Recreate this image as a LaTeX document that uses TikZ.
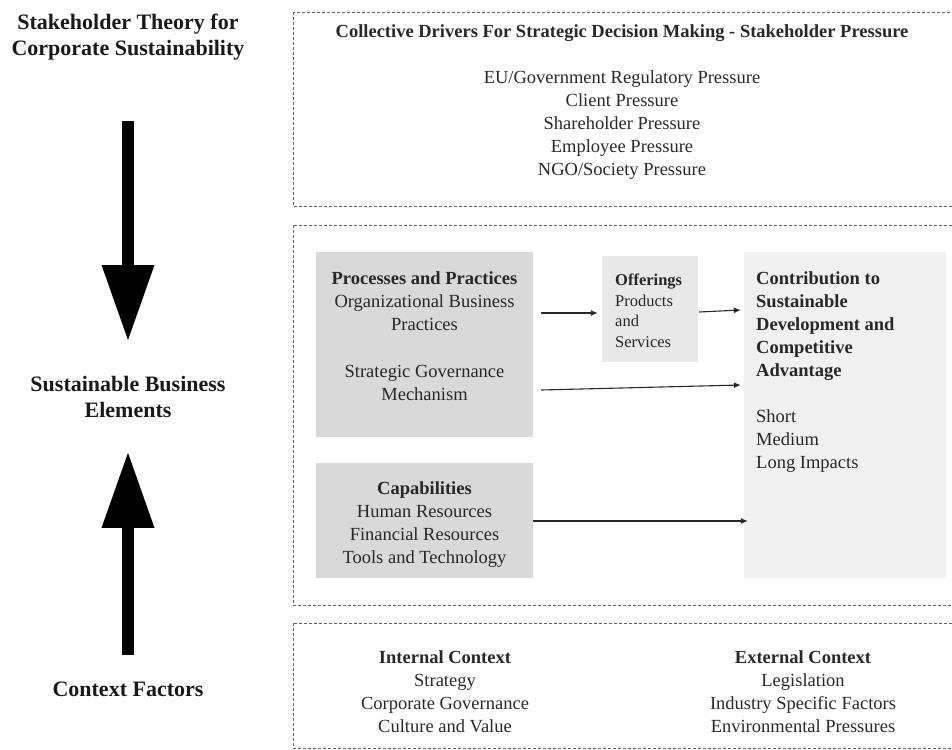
\documentclass[tikz,border=0pt]{standalone}
\usepackage{fontspec}
\setmainfont{Liberation Serif}
\usetikzlibrary{arrows.meta, positioning}
\definecolor{procgray}{RGB}{217,217,217}
\definecolor{offergray}{RGB}{232,232,232}
\definecolor{contribgray}{RGB}{240,240,240}
\definecolor{inkgray}{RGB}{40,40,40}
\definecolor{dashgray}{RGB}{95,95,95}

\begin{document}
\begin{tikzpicture}[x=1pt, y=-1pt,
    frame/.style={draw=dashgray, line width=0.8pt, dash pattern=on 3pt off 2pt},
    body/.style={inner sep=0pt, text=inkgray, align=center, font=\fontsize{18.5pt}{23pt}\selectfont},
    bodyleft/.style={body, align=left},
    smalltext/.style={inner sep=0pt, text=inkgray, align=left, font=\fontsize{16.5pt}{20.7pt}\selectfont},
    heading/.style={inner sep=0pt, text=black!90, align=center, font=\fontsize{22pt}{26pt}\selectfont\bfseries},
    flow/.style={-{Latex[length=7pt,width=6pt]}, line width=1.1pt, draw=inkgray},
    bigarrow/.style={line width=12pt, -{Triangle[length=75pt,width=53pt,line width=0pt]}}
]
\useasboundingbox (0,0) rectangle (952,749);
\clip (0,0) rectangle (952,749);

% dashed frames
\draw[frame] (293,12) rectangle (975,206);
\draw[frame] (293,225) rectangle (975,605);
\draw[frame] (293,623) rectangle (975,748);

% left column
\node[heading, anchor=north] (theory) at (128,13.5) {Stakeholder Theory for\\Corporate Sustainability};
\node[heading, anchor=north] (elements) at (128,376) {Sustainable Business\\Elements};
\node[heading, anchor=north] (context) at (128,682) {Context Factors};

\draw[bigarrow, shorten <=60.5pt, shorten >=36pt] (theory) -- (elements);
\draw[bigarrow, shorten <=27pt, shorten >=35pt] (context) -- (elements);

% stakeholder pressure
\node[body, anchor=north] (drivers) at (622,24) {\textbf{Collective Drivers For Strategic Decision Making - Stakeholder Pressure}\\[23pt]
    EU/Government Regulatory Pressure\\Client Pressure\\Shareholder Pressure\\Employee Pressure\\NGO/Society Pressure};

% business elements
\node[fill=procgray, inner sep=0pt, minimum width=217pt, minimum height=185pt] (proc) at (424.5,344.5) {};
\node[fill=procgray, inner sep=0pt, minimum width=217pt, minimum height=115pt] (capab) at (424.5,520.5) {};
\node[fill=offergray, inner sep=0pt, minimum width=96pt, minimum height=106pt] (offer) at (650,309) {};
\node[fill=contribgray, inner sep=0pt, minimum width=202pt, minimum height=326pt] (contrib) at (845,415) {};

\node[body, anchor=north] (proctext) at (424.5,271) {\textbf{Processes and Practices}\\Organizational Business\\Practices\\[24pt]
    Strategic Governance\\Mechanism};
\node[body, anchor=north] (capabtext) at (424.5,481) {\textbf{Capabilities}\\Human Resources\\Financial Resources\\Tools and Technology};
\node[smalltext, anchor=north west] (offertext) at (615,273.5) {\textbf{Offerings}\\Products\\and\\Services};
\node[bodyleft, anchor=north west] (contribtext) at (756,271) {\textbf{Contribution to}\\\textbf{Sustainable}\\\textbf{Development and}\\\textbf{Competitive}\\\textbf{Advantage}\\[23pt]
    Short\\Medium\\Long Impacts};

\draw[flow] ([xshift=8pt, yshift=31.5pt]proc.east) -- ([xshift=-4pt, yshift=-4pt]offer.west);
\draw[flow] ([xshift=1pt, yshift=-3pt]offer.east) -- ([xshift=-3pt, yshift=105pt]contrib.west);
\draw[flow] ([xshift=8pt, yshift=-45.5pt]proc.east) -- ([xshift=-3pt, yshift=30pt]contrib.west);
\draw[flow] ([yshift=-0.5pt]capab.east) -- ([xshift=4pt, yshift=-106pt]contrib.west);

% context factors
\node[body, anchor=north] (internal) at (445,650) {\textbf{Internal Context}\\Strategy\\Corporate Governance\\Culture and Value};
\node[body, anchor=north] (external) at (803,650) {\textbf{External Context}\\Legislation\\Industry Specific Factors\\Environmental Pressures};
\end{tikzpicture}
\end{document}
